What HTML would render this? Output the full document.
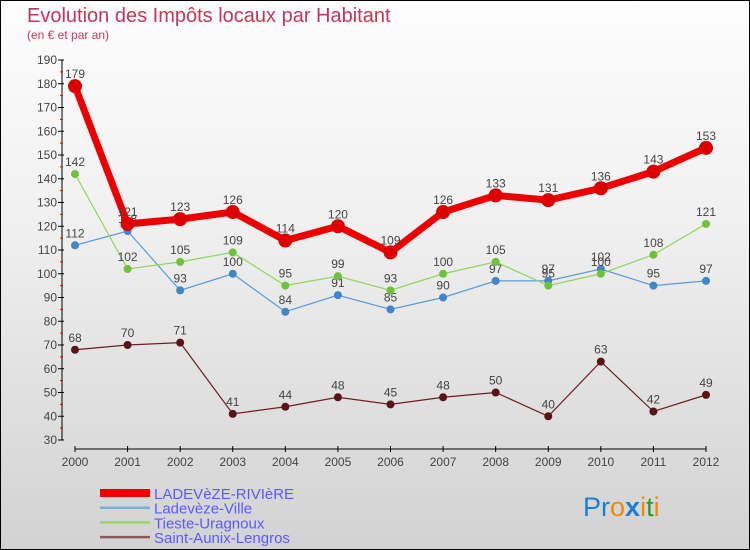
<!DOCTYPE html>
<html><head><meta charset="utf-8"><style>
html,body{margin:0;padding:0}
body{width:750px;height:550px;overflow:hidden;font-family:"Liberation Sans",sans-serif}
#wrap{position:absolute;left:0;top:0;width:748px;height:548px;border:1px solid #000;background:linear-gradient(#fdfdfd,#f0f0f0 40%,#d2d2d2)}
</style></head><body>
<div id="wrap">
<svg id="chart" width="750" height="550" style="position:absolute;left:-1px;top:-1px">
<text x="27" y="22" font-size="20" fill="#c0365e">Evolution des Impôts locaux par Habitant</text>
<text x="27" y="39" font-size="12" fill="#c0365e">(en € et par an)</text>
<g id="axes"></g><g id="series"></g>
<g id="legend"></g>
<text x="583" y="516" font-size="27" font-family="Liberation Sans"><tspan fill="#1a7fd4">Pr</tspan><tspan fill="#f08a00">o</tspan><tspan fill="#1a7fd4" font-weight="bold">x</tspan><tspan fill="#f08a00">i</tspan><tspan fill="#2a9a2a">t</tspan><tspan fill="#f08a00">i</tspan></text>
</svg></div>
<script>
const years=[2000,2001,2002,2003,2004,2005,2006,2007,2008,2009,2010,2011,2012];
const yTicks=[30,40,50,60,70,80,90,100,110,120,130,140,150,160,170,180,190];
const seriesNames=["LADEVèZE-RIVIèRE","Ladevèze-Ville","Tieste-Uragnoux","Saint-Aunix-Lengros"];
const riviere=[179,121,123,126,114,120,109,126,133,131,136,143,153];
const ville=[112,118,93,100,84,91,85,90,97,97,102,95,97];
const tieste=[142,102,105,109,95,99,93,100,105,95,100,108,121];
const saint=[68,70,71,41,44,48,45,48,50,40,63,42,49];
const NS="http://www.w3.org/2000/svg";
function X(i){return 75+i*(706-75)/12;}
function Y(v){return 60+(190-v)*2.375;}
function mk(t,a,p,name){const e=document.createElementNS(NS,t);for(const k in a)e.setAttribute(k,a[k]);


p.appendChild(e);return e;}
const ax=document.getElementById('axes');
mk('line',{x1:62,y1:60,x2:62,y2:440,stroke:'#000'},ax,'y-axis');
mk('line',{x1:75,y1:449,x2:706,y2:449,stroke:'#000'},ax,'x-axis');
yTicks.forEach(v=>{mk('line',{x1:58,x2:64,y1:Y(v),y2:Y(v),stroke:'#000'},ax,'y-tick');
if(v<190)mk('line',{x1:60,x2:63,y1:Y(v+5),y2:Y(v+5),stroke:'#e00'},ax,'y-minor-tick');
const t=mk('text',{x:57,y:Y(v)+4,'text-anchor':'end','font-size':12,fill:'#444'},ax,'y-tick-label');t.textContent=v;});
years.forEach((y,i)=>{mk('line',{x1:X(i),x2:X(i),y1:446,y2:452,stroke:'#000'},ax,'x-tick');
const t=mk('text',{x:X(i),y:466,'text-anchor':'middle','font-size':12,fill:'#444'},ax,'x-tick-label');t.textContent=y;});
const sg=document.getElementById('series');
const conf=[[saint,'#6b1f24','#5a1418',1.2,4,'saint'],[ville,'#5b9bd5','#3f85c8',1.2,4,'ville'],[tieste,'#8fd65a','#6ec23a',1.2,4,'tieste'],[riviere,'#ee0000','#dd0000',7,7,'riviere']];
conf.forEach(([d,c,dc,w,r,n])=>{
mk('polyline',{points:d.map((v,i)=>X(i)+','+Y(v)).join(' '),fill:'none',stroke:c,'stroke-width':w},sg,'line-'+n);
d.forEach((v,i)=>{mk('circle',{cx:X(i),cy:Y(v),r:r,fill:dc},sg,'point-'+n);
const t=mk('text',{x:X(i),y:Y(v)-8,'text-anchor':'middle','font-size':12,fill:'#444'},sg,'value-label-'+n);t.textContent=v;});});
const lg=document.getElementById('legend');
const lc=['#ee0000','#7aaed8','#9ad66a','#8a5a5a'],lw=[8,2.5,2.5,2.5];
seriesNames.forEach((s,i)=>{const y=493+i*14.7;
mk('line',{x1:100,x2:150,y1:y,y2:y,stroke:lc[i],'stroke-width':lw[i]},lg,'legend-swatch');
const t=mk('text',{x:154,y:y+6,'font-size':15,fill:'#5a5aff'},lg,'legend-entry');t.textContent=s;});
</script></body></html>
